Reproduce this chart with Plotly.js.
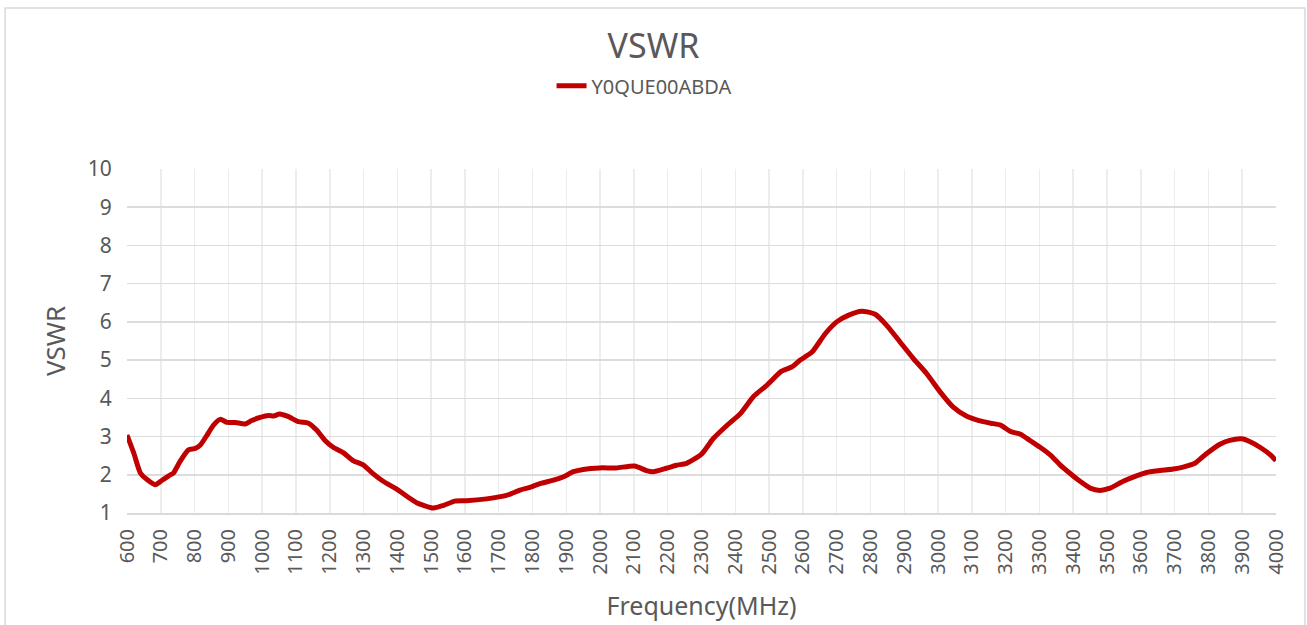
<!DOCTYPE html>
<html>
<head>
<meta charset="utf-8">
<script src="https://cdn.plot.ly/plotly-3.0.1.min.js"></script>
<style>html,body{margin:0;padding:0;background:#fff;}#chart{width:1307px;height:625px;}</style>
</head>
<body>
<div id="chart"></div>
<script>
const seriesName = "Y0QUE00ABDA";
const freqMHz = [600,620,640,660,683,703,728,737,757,782,802,817,837,856,876,896,920,950,969,994,1019,1034,1052,1078,1107,1137,1161,1186,1210,1240,1269,1299,1328,1358,1397,1436,1457,1507,1537,1570,1605,1664,1723,1763,1792,1822,1862,1892,1921,1950,1999,2048,2102,2137,2157,2196,2226,2256,2300,2335,2375,2415,2454,2493,2537,2567,2592,2627,2666,2700,2734,2774,2814,2848,2887,2927,2966,3006,3045,3085,3124,3156,3185,3215,3244,3273,3302,3332,3361,3390,3420,3450,3479,3509,3548,3587,3617,3657,3696,3725,3760,3794,3834,3863,3898,3922,3956,3986,4000];
const vswr = [3.04,2.57,2.04,1.87,1.74,1.85,2.0,2.04,2.35,2.65,2.69,2.78,3.04,3.30,3.45,3.37,3.37,3.33,3.42,3.50,3.55,3.54,3.59,3.52,3.39,3.35,3.17,2.90,2.72,2.58,2.37,2.26,2.03,1.83,1.63,1.39,1.27,1.13,1.20,1.31,1.32,1.37,1.46,1.60,1.67,1.77,1.86,1.95,2.08,2.14,2.18,2.18,2.23,2.11,2.08,2.17,2.25,2.30,2.54,2.95,3.29,3.60,4.05,4.34,4.71,4.82,5.0,5.21,5.69,6.0,6.17,6.28,6.20,5.91,5.48,5.04,4.65,4.17,3.77,3.53,3.41,3.35,3.30,3.13,3.06,2.89,2.72,2.52,2.26,2.04,1.83,1.65,1.59,1.65,1.83,1.97,2.06,2.11,2.15,2.20,2.30,2.55,2.80,2.90,2.94,2.87,2.70,2.50,2.37];
const xTicks = [];
for (let v = 600; v <= 4000; v += 100) xTicks.push(v);
const yTicks = [1,2,3,4,5,6,7,8,9,10];

const font = "'Noto Sans', 'Noto Sans CJK SC', sans-serif";
const grey = "#595959";

Plotly.newPlot("chart", [{
  x: freqMHz, y: vswr, type: "scatter", mode: "lines", name: seriesName,
  line: {color: "#C00000", width: 5, shape: "spline", smoothing: 0.6}
}], {
  width: 1307, height: 625,
  paper_bgcolor: "#fff", plot_bgcolor: "#fff",
  margin: {l: 127, r: 31, t: 169, b: 112},
  font: {family: font, color: grey},
  title: {text: "VSWR", font: {size: 34, color: grey, family: font}, x: 0.5, xanchor: "center", y: 0.926, yanchor: "middle"},
  showlegend: true,
  legend: {orientation: "h", x: 0.45, xanchor: "center", y: 1.242, yanchor: "middle", font: {size: 20, color: grey}},
  xaxis: {
    range: [600, 4000], tickmode: "array", tickvals: xTicks, ticktext: xTicks.map(String),
    tickangle: -90, tickfont: {size: 20, color: grey},
    ticks: "outside", ticklen: 6, tickcolor: "rgba(0,0,0,0)",
    showgrid: true, gridcolor: "#ededed", gridwidth: 1.5,
    showline: true, linecolor: "#d9d9d9", linewidth: 2, zeroline: false,
    title: {text: "Frequency(MHz)", font: {size: 25, color: grey}, standoff: 24}
  },
  yaxis: {
    range: [1, 10], tickmode: "array", tickvals: yTicks, tickfont: {size: 21, color: grey},
    ticks: "outside", ticklen: 10, tickcolor: "rgba(0,0,0,0)",
    showgrid: true, gridcolor: "#dcdcdc", gridwidth: 1.5, zeroline: false,
    showline: false,
    title: {text: "VSWR", font: {size: 26, color: grey}, standoff: 14}
  },
  shapes: [{
    type: "rect", xref: "paper", yref: "paper",
    x0: -0.106, x1: 1.0252, y0: -0.4, y1: 1.468,
    line: {color: "#d9d9d9", width: 1.5}, fillcolor: "rgba(0,0,0,0)", layer: "below"
  }]
}, {displayModeBar: false, staticPlot: true});
</script>
</body>
</html>
